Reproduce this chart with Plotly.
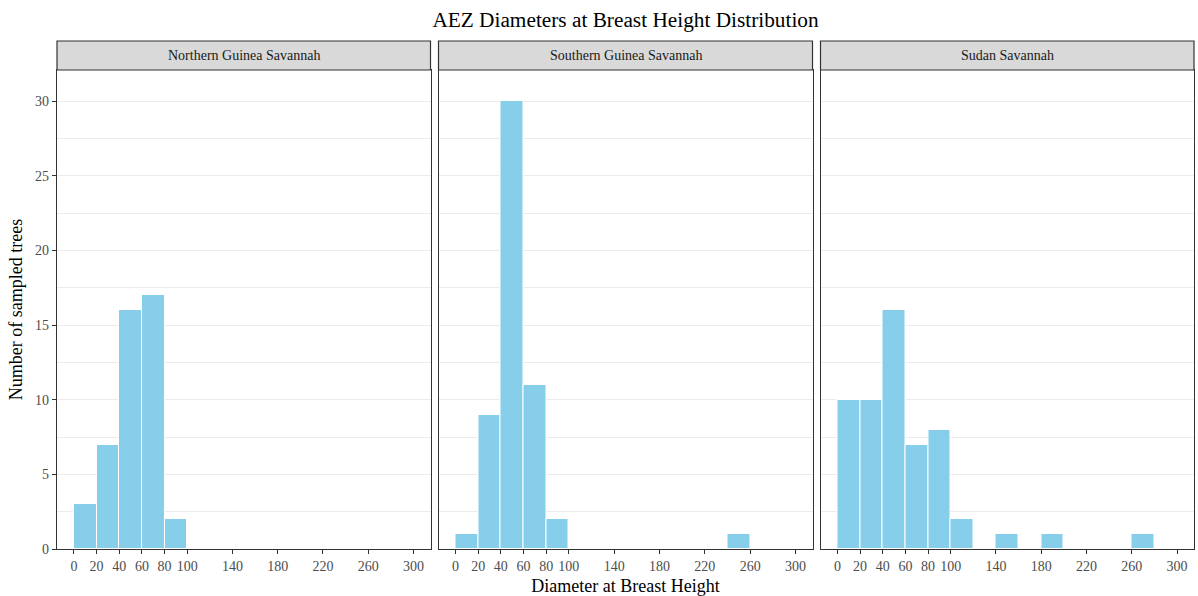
import plotly.graph_objects as go
from plotly.subplots import make_subplots

# =========================
# Data (counts per 20-unit DBH bin)
# =========================
bin_left = [0, 20, 40, 60, 80, 100, 120, 140, 160, 180, 200, 220, 240, 260, 280]
bin_width = 20

zones = ["Northern Guinea Savannah", "Southern Guinea Savannah", "Sudan Savannah"]
northern = [3, 7, 16, 17, 2, 0, 0, 0, 0, 0, 0, 0, 0, 0, 0]
southern = [1, 9, 30, 11, 2, 0, 0, 0, 0, 0, 0, 0, 1, 0, 0]
sudan = [10, 10, 16, 7, 8, 2, 0, 1, 0, 1, 0, 0, 0, 1, 0]

x_ticks = [0, 20, 40, 60, 80, 100, 140, 180, 220, 260, 300]
y_ticks = [0, 5, 10, 15, 20, 25, 30]

# =========================
# Style
# =========================
FONT = "Liberation Serif"
FILL = "#87CEEB"
DARK = "#333333"
GRID = "#ebebeb"

W, H = 1198, 596
ML, MR, MT, MB = 57, 4, 41, 47
pw = W - ML - MR
ph = H - MT - MB

# panel pixel edges
panels_px = [(57, 430.5), (438.5, 812.5), (820.5, 1194)]
domains = [[(a - ML) / pw, (b - ML) / pw] for a, b in panels_px]
panel_top = (H - MB - 70) / ph

fig = make_subplots(rows=1, cols=3, shared_yaxes=False)

for i, (name, counts) in enumerate(zip(zones, [northern, southern, sudan])):
    centers = [b + bin_width / 2 for b in bin_left]
    fig.add_trace(go.Bar(
        x=centers, y=counts, width=bin_width,
        marker=dict(color=FILL, line=dict(color="white", width=1)),
        showlegend=False, name=name
    ), row=1, col=i + 1)

    ax = "xaxis" if i == 0 else f"xaxis{i + 1}"
    ay = "yaxis" if i == 0 else f"yaxis{i + 1}"
    fig.layout[ax].update(
        domain=domains[i], range=[-15, 315], automargin=False,
        tickvals=x_ticks, ticks="outside", ticklen=4, tickcolor=DARK,
        showgrid=False, zeroline=False,
        showline=True, mirror=True, linecolor=DARK, linewidth=1.2,
        tickfont=dict(family=FONT, size=14, color="#4d4d4d"),
    )
    fig.layout[ay].update(
        domain=[0, panel_top], range=[0, 32.1], automargin=False,
        tickvals=y_ticks, ticks="outside" if i == 0 else "",
        ticklen=4, tickcolor=DARK, showticklabels=(i == 0),
        showgrid=True, gridcolor=GRID, gridwidth=1, zeroline=False,
        minor=dict(dtick=2.5, tick0=0, showgrid=True, gridcolor=GRID, gridwidth=1),
        showline=True, mirror=True, linecolor=DARK, linewidth=1.2,
        tickfont=dict(family=FONT, size=14, color="#4d4d4d"),
    )

    # facet strip
    fig.add_shape(type="rect", xref="paper", yref="paper",
                  x0=domains[i][0], x1=domains[i][1], y0=panel_top, y1=1,
                  fillcolor="#d9d9d9", line=dict(color=DARK, width=1.2), layer="above")
    fig.add_annotation(text=name, xref="paper", yref="paper",
                       x=(domains[i][0] + domains[i][1]) / 2, y=(panel_top + 1) / 2,
                       xanchor="center", yanchor="middle",
                       showarrow=False, font=dict(family=FONT, size=14, color="#1a1a1a"))

fig.layout.xaxis2.title = dict(text="Diameter at Breast Height",
                               font=dict(family=FONT, size=18, color="black"), standoff=6)
fig.layout.yaxis.title = dict(text="Number of sampled trees",
                              font=dict(family=FONT, size=18, color="black"), standoff=7)

fig.update_layout(
    title=dict(text="AEZ Diameters at Breast Height Distribution",
               font=dict(family=FONT, size=21.3, color="black"),
               x=(ML + pw / 2) / W, xanchor="center",
               yref="container", y=1 - 20 / H, yanchor="middle"),
    width=W, height=H,
    margin=dict(l=ML, r=MR, t=MT, b=MB),
    plot_bgcolor="white", paper_bgcolor="white",
    bargap=0,
)

# drop the default 8px page margin so the figure sits at the window corner
fig.write_html("out.html", config={"displayModeBar": False},
               post_script="document.body.style.margin='0';")
